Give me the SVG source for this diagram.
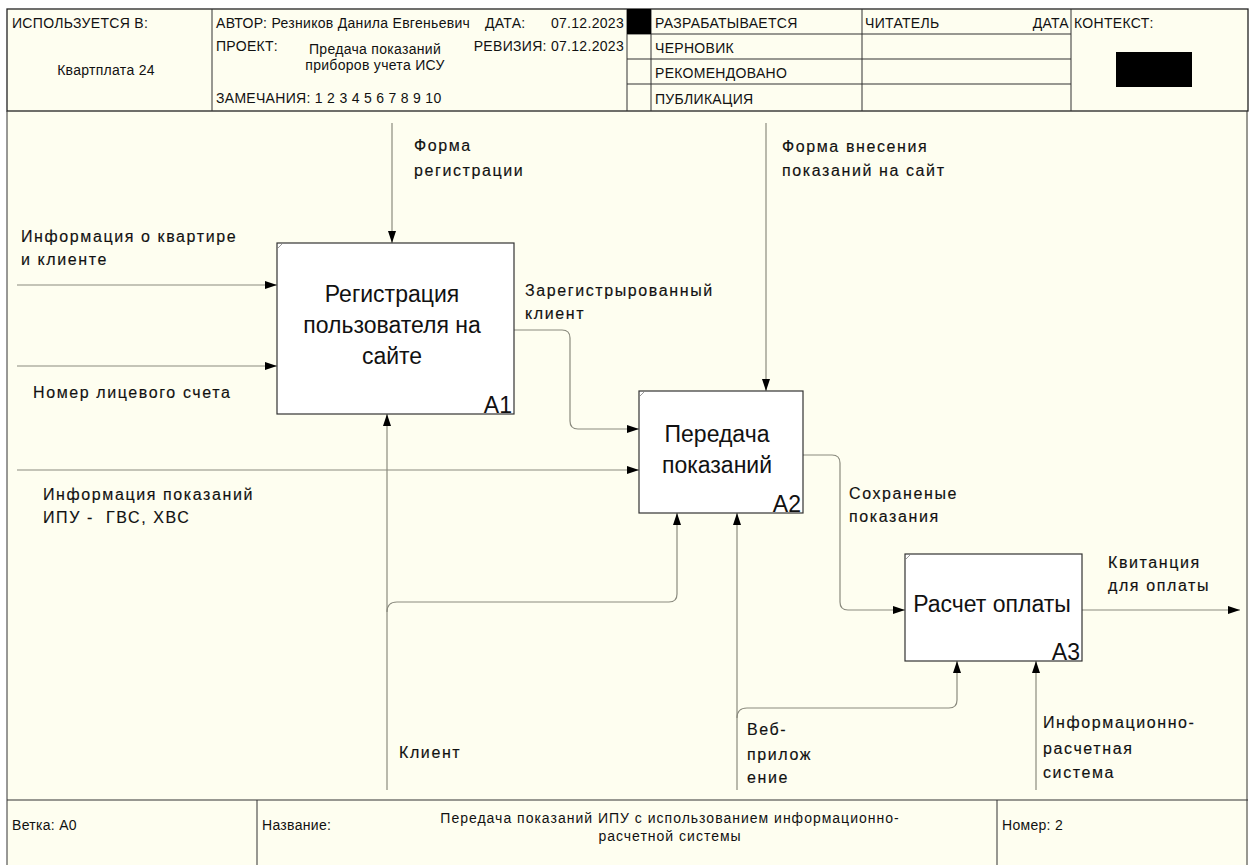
<svg xmlns="http://www.w3.org/2000/svg" width="1252" height="865" viewBox="0 0 1252 865">
<defs>
<style>
.hdr{font-family:"Liberation Sans",Arial,sans-serif;font-size:14px;fill:#111;letter-spacing:0.3px}
.ttl{font-family:"Liberation Sans",Arial,sans-serif;font-size:14px;fill:#111;letter-spacing:1px;text-anchor:middle}
.lbl{font-family:"Liberation Sans",Arial,sans-serif;font-size:16px;fill:#111;letter-spacing:1.6px;stroke:#111;stroke-width:0.15;white-space:pre}
.bt{font-family:"Liberation Sans",Arial,sans-serif;font-size:23px;fill:#111;text-anchor:middle}
.bn{font-family:"Liberation Sans",Arial,sans-serif;font-size:23px;fill:#111;text-anchor:end}
.frame{fill:none;stroke:#222;stroke-width:1.3}
.grid{stroke:#333;stroke-width:1}
.box{fill:#fff;stroke:#333;stroke-width:1.2}
.con{fill:none;stroke:#8a8a7e;stroke-width:1.2}
.arr{marker-end:url(#ah)}
</style>
<marker id="ah" viewBox="0 0 12 8" refX="12" refY="4" markerWidth="12" markerHeight="8" orient="auto" markerUnits="userSpaceOnUse"><path d="M0,0 L12,4 L0,8 z" fill="#000"/></marker>
</defs>
<rect x="0" y="0" width="1252" height="865" fill="#fff"/>
<rect x="7" y="9" width="1241" height="860" fill="#fefef0"/>

<g id="header">
<rect x="7" y="9" width="1241" height="102" class="frame"/>
<line x1="212" y1="9" x2="212" y2="111" class="grid"/>
<line x1="627" y1="9" x2="627" y2="111" class="grid"/>
<line x1="651" y1="9" x2="651" y2="111" class="grid"/>
<line x1="862" y1="9" x2="862" y2="111" class="grid"/>
<line x1="1071" y1="9" x2="1071" y2="111" class="grid"/>
<line x1="627" y1="34" x2="1071" y2="34" class="grid"/>
<line x1="627" y1="59" x2="1071" y2="59" class="grid"/>
<line x1="627" y1="84" x2="1071" y2="84" class="grid"/>
<rect x="627" y="9" width="24" height="25" fill="#000"/>
<rect x="1116" y="52" width="76" height="35" fill="#000"/>
<text class="hdr" x="12" y="28">ИСПОЛЬЗУЕТСЯ В:</text>
<text class="hdr" x="106" y="75" text-anchor="middle">Квартплата 24</text>
<text class="hdr" x="216" y="28">АВТОР: Резников Данила Евгеньевич</text>
<text class="hdr" x="485" y="28">ДАТА:</text>
<text class="hdr" x="624" y="28" text-anchor="end">07.12.2023</text>
<text class="hdr" x="216" y="51">ПРОЕКТ:</text>
<text class="hdr" x="375" y="54" text-anchor="middle">Предача показаний</text>
<text class="hdr" x="375" y="70" text-anchor="middle">приборов учета ИСУ</text>
<text class="hdr" x="624" y="51" text-anchor="end">РЕВИЗИЯ: 07.12.2023</text>
<text class="hdr" x="216" y="103">ЗАМЕЧАНИЯ: 1 2 3 4 5 6 7 8 9 10</text>
<text class="hdr" x="655" y="28">РАЗРАБАТЫВАЕТСЯ</text>
<text class="hdr" x="655" y="53">ЧЕРНОВИК</text>
<text class="hdr" x="655" y="78">РЕКОМЕНДОВАНО</text>
<text class="hdr" x="655" y="104">ПУБЛИКАЦИЯ</text>
<text class="hdr" x="865" y="28">ЧИТАТЕЛЬ</text>
<text class="hdr" x="1069" y="28" text-anchor="end">ДАТА</text>
<text class="hdr" x="1074" y="28">КОНТЕКСТ:</text>
</g>

<g id="footer">
<line x1="7" y1="800" x2="1248" y2="800" class="grid"/>
<line x1="7" y1="111" x2="7" y2="865" class="grid"/>
<line x1="1247" y1="111" x2="1247" y2="865" class="grid"/>
<line x1="257" y1="800" x2="257" y2="865" class="grid"/>
<line x1="997" y1="800" x2="997" y2="865" class="grid"/>
<text class="hdr" x="12" y="830">Ветка: A0</text>
<text class="hdr" x="262" y="830">Название:</text>
<text class="ttl" x="670" y="823">Передача показаний ИПУ с использованием информационно-</text>
<text class="ttl" x="670" y="841">расчетной системы</text>
<text class="hdr" x="1002" y="830">Номер: 2</text>
</g>

<g id="connectors">
<path class="con arr" d="M17,285 H277"/>
<path class="con arr" d="M17,366 H277"/>
<path class="con arr" d="M17,470 H639"/>
<path class="con arr" d="M392,123 V243"/>
<path class="con arr" d="M766,123 V391"/>
<path class="con arr" d="M514,330 H562 Q570,330 570,338 V421 Q570,429 578,429 H639"/>
<path class="con arr" d="M803,455 H832 Q840,455 840,463 V602 Q840,610 848,610 H905"/>
<path class="con arr" d="M1082,610 H1240"/>
<path class="con arr" d="M387,790 V414"/>
<path class="con arr" d="M387,612 Q387,602 397,602 H669 Q677,602 677,594 V513"/>
<path class="con arr" d="M737,790 V513"/>
<path class="con arr" d="M737,718 Q737,708 747,708 H949 Q957,708 957,700 V661"/>
<path class="con arr" d="M1036,790 V661"/>
</g>

<g id="labels">
<text class="lbl" x="414" y="151">Форма</text>
<text class="lbl" x="414" y="176">регистрации</text>
<text class="lbl" x="782" y="152">Форма внесения</text>
<text class="lbl" x="782" y="176">показаний на сайт</text>
<text class="lbl" x="21" y="242">Информация о квартире</text>
<text class="lbl" x="21" y="265">и клиенте</text>
<text class="lbl" x="525" y="296">Зарегистрырованный</text>
<text class="lbl" x="525" y="319">клиент</text>
<text class="lbl" x="33" y="398">Номер лицевого счета</text>
<text class="lbl" x="43" y="500">Информация показаний</text>
<text class="lbl" x="43" y="523" xml:space="preserve">ИПУ -  ГВС, ХВС</text>
<text class="lbl" x="849" y="499">Сохраненые</text>
<text class="lbl" x="849" y="522">показания</text>
<text class="lbl" x="1108" y="568">Квитанция</text>
<text class="lbl" x="1108" y="591">для оплаты</text>
<text class="lbl" x="399" y="758">Клиент</text>
<text class="lbl" x="747" y="735">Веб-</text>
<text class="lbl" x="747" y="760">прилож</text>
<text class="lbl" x="747" y="783">ение</text>
<text class="lbl" x="1043" y="728">Информационно-</text>
<text class="lbl" x="1043" y="754">расчетная</text>
<text class="lbl" x="1043" y="778">система</text>
</g>

<g id="A1">
<rect x="277" y="243" width="237" height="171" class="box"/>
<line x1="278" y1="248" x2="282" y2="244" stroke="#999" stroke-width="1"/>
<text class="bt" x="392" y="302">Регистрация</text>
<text class="bt" x="392" y="333">пользователя на</text>
<text class="bt" x="392" y="364">сайте</text>
<text class="bn" x="512" y="413">A1</text>
</g>

<g id="A2">
<rect x="639" y="391" width="164" height="122" class="box"/>
<line x1="640" y1="396" x2="644" y2="392" stroke="#999" stroke-width="1"/>
<text class="bt" x="717" y="442">Передача</text>
<text class="bt" x="717" y="473">показаний</text>
<text class="bn" x="801" y="512">A2</text>
</g>

<g id="A3">
<rect x="905" y="554" width="177" height="107" class="box"/>
<line x1="906" y1="559" x2="910" y2="555" stroke="#999" stroke-width="1"/>
<text class="bt" x="992" y="612">Расчет оплаты</text>
<text class="bn" x="1080" y="660">A3</text>
</g>
</svg>
